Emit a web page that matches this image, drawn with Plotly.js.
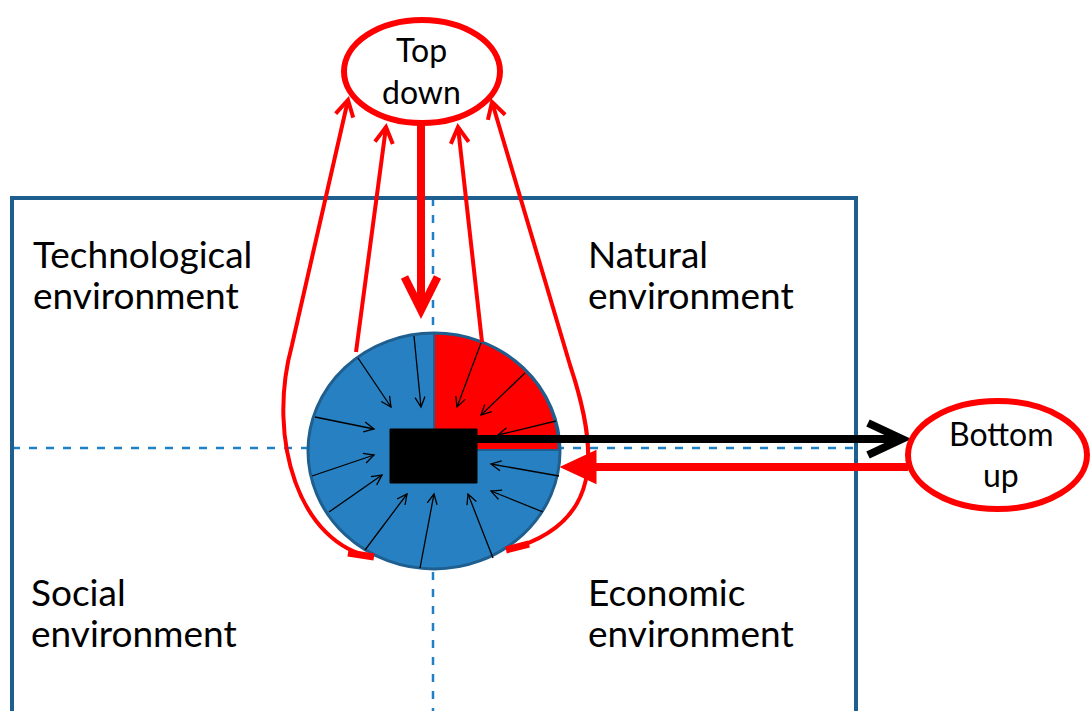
<!DOCTYPE html>
<html><head><meta charset="utf-8">
<script src="https://cdn.plot.ly/plotly-3.0.1.min.js"></script>
<style>html,body{margin:0;padding:0;background:#fff;overflow:hidden}</style>
</head><body><div id="chart" style="width:1091px;height:711px"></div>
<script>
// ---- text ----
const quadrantLines = ["Technological","environment","Natural","environment","Social","environment","Economic","environment"];
const quadrantX = [31,31,586,586,29,29,586,586];
const quadrantBaseline = [269,310,269,310,607,648,607,648];
const ovalLabels = ["Top","down","Bottom","up"];
const ovalLabelX = [421,421,1001,1001];
const ovalLabelBaseline = [63,105,447,488];

// ---- geometry (pixel space) ----
const frame = [12,198,856,760];             // x0,y0,x1,y1
const crossX = 433, crossY = 448;
const hub = [434,451], hubR = [126,118];    // centre, radii
const core = [390,429,477,483];
const topOval = [344,20,500,123];
const bottomOval = [908,401,1087,509];
// spokes into the core: start, end
const spokeStart = [[414,336],[358,358],[315,417],[312,476],[329,512],[365,550],[420,568],[493,558],[543,512],[559,476],[481,343],[525,373],[556,421]];
const spokeEnd   = [[421,407],[391,407],[374,429],[374,455],[382,475],[407,494],[434,494],[468,494],[491,491],[491,464],[457,407],[481,415],[498,435]];
// feedback curves to "Top down"
const feedbackPaths = [
  {d:"M373,557 C300,545 266,440 292,345 L348,100", from:[292,345], tip:[348,100]},
  {d:"M356,352 L386,127", from:[356,352], tip:[386,127]},
  {d:"M482,342 L458,127", from:[482,342], tip:[458,127]},
  {d:"M507,550 C602,525 600,455 570,365 L492,102", from:[570,365], tip:[492,102]}
];
const stubs = [[348,553,374,557],[506,550,529,544]];

const RED = "#ff0000", BLUE_DARK = "#1f5f8f", BLUE_FILL = "#2780c2", DASH = "#1f80c6";
const shapes = [];
function line(x0,y0,x1,y1,color,w,dash){shapes.push({type:"line",xref:"x",yref:"y",x0,y0,x1,y1,line:{color,width:w,dash:dash||"solid"},layer:"above"});}
function path(d,color,w,fill){shapes.push({type:"path",xref:"x",yref:"y",path:d,line:{color,width:w},fillcolor:fill||"rgba(0,0,0,0)",layer:"above"});}
function head(from,tip,L,W,color,w,filled){
  const dx=tip[0]-from[0], dy=tip[1]-from[1], n=Math.hypot(dx,dy), ux=dx/n, uy=dy/n, nx=-uy, ny=ux;
  const bx=tip[0]-L*ux, by=tip[1]-L*uy;
  const p1=[bx+W*nx,by+W*ny], p2=[bx-W*nx,by-W*ny];
  const d=`M${p1[0]},${p1[1]} L${tip[0]},${tip[1]} L${p2[0]},${p2[1]}`+(filled?" Z":"");
  path(d,color,w,filled?color:null);
}

// dashed cross
line(frame[0],crossY,frame[2],crossY,DASH,2.5,"8px,9px");
line(crossX,frame[1],crossX,frame[3],DASH,2.5,"8px,9px");
// frame
shapes.push({type:"rect",xref:"x",yref:"y",x0:frame[0],y0:frame[1],x1:frame[2],y1:frame[3],line:{color:BLUE_DARK,width:4},fillcolor:"rgba(0,0,0,0)",layer:"above"});
// hub
shapes.push({type:"circle",xref:"x",yref:"y",x0:hub[0]-hubR[0],y0:hub[1]-hubR[1],x1:hub[0]+hubR[0],y1:hub[1]+hubR[1],line:{color:BLUE_DARK,width:3},fillcolor:BLUE_FILL,layer:"above"});
// red quadrant
(function(){
  let d=`M${hub[0]},${hub[1]-1}`;
  for(let a=0;a<=90;a+=3){const t=a*Math.PI/180;d+=` L${hub[0]+(hubR[0]-1.5)*Math.cos(t)},${hub[1]-1-(hubR[1]-1.5)*Math.sin(t)}`;}
  d+=" Z";
  path(d,BLUE_DARK,2,RED);
})();
// spokes
spokeStart.forEach((s,i)=>{const e=spokeEnd[i];line(s[0],s[1],e[0],e[1],"#000",1.3);head(s,e,10,5,"#000",1.3,false);});
// core
shapes.push({type:"rect",xref:"x",yref:"y",x0:core[0],y0:core[1],x1:core[2],y1:core[3],line:{color:"#000",width:1},fillcolor:"#000",layer:"above"});
// feedback curves
feedbackPaths.forEach(f=>{path(f.d,RED,4);head(f.from,f.tip,16,9,RED,4,false);});
stubs.forEach(s=>line(s[0],s[1],s[2],s[3],RED,7));
// top-down arrow
line(421,124,421,306,RED,8);
head([421,124],[421,310],33,16.5,RED,8,false);
// black arrow to bottom-up
line(core[2],439,898,439,"#000",8);
head([core[2],439],[902,439],34,16,"#000",8,false);
// red arrow from bottom-up
line(bottomOval[0],467,585,467,RED,8);
head([bottomOval[0],467],[563,467],32,15,RED,3,true);
// ovals
shapes.push({type:"circle",xref:"x",yref:"y",x0:topOval[0],y0:topOval[1],x1:topOval[2],y1:topOval[3],line:{color:RED,width:6},fillcolor:"#fff",layer:"above"});
shapes.push({type:"circle",xref:"x",yref:"y",x0:bottomOval[0],y0:bottomOval[1],x1:bottomOval[2],y1:bottomOval[3],line:{color:RED,width:6},fillcolor:"#fff",layer:"above"});

// annotations: text line box bottom sits at baseline + descent
const FONT = "Lato, 'Noto Sans', sans-serif";
const annotations = [];
const QS = 37, OS = 32;
function label(t,x,baseline,size,xanchor){
  annotations.push({text:t,x,y:baseline+1+0.213*size,xref:"x",yref:"y",xanchor,yanchor:"bottom",
    showarrow:false,font:{family:FONT,size,color:"#000"}});
}
quadrantLines.forEach((t,i)=>label(t,quadrantX[i],quadrantBaseline[i],QS,"left"));
ovalLabels.forEach((t,i)=>label(t,ovalLabelX[i],ovalLabelBaseline[i],OS,"center"));

Plotly.newPlot("chart",[{x:[0],y:[0],mode:"markers",marker:{opacity:0},hoverinfo:"skip",showlegend:false}],{
  width:1091,height:711,margin:{l:0,r:0,t:0,b:0},
  paper_bgcolor:"#fff",plot_bgcolor:"#fff",
  xaxis:{range:[0,1091],visible:false,fixedrange:true},
  yaxis:{range:[711,0],visible:false,fixedrange:true},
  shapes,annotations,showlegend:false
},{displayModeBar:false,staticPlot:true});
</script></body></html>
